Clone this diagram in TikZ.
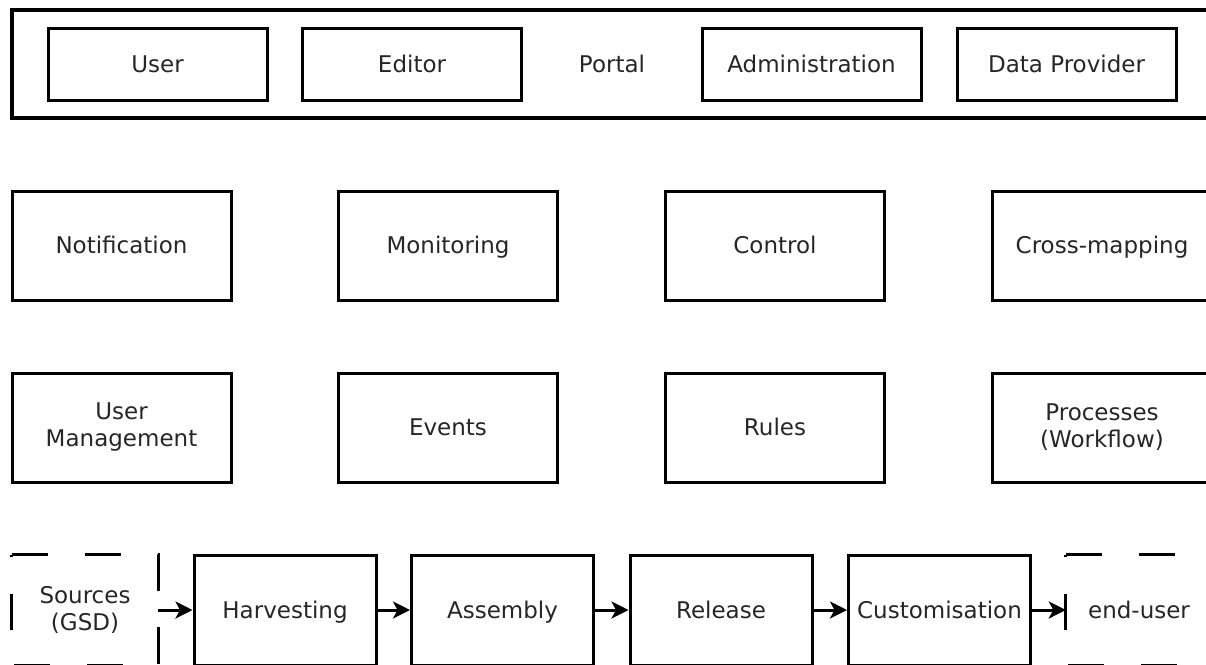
\documentclass[tikz,border=0pt]{standalone}
\usepackage{fontspec}
\setmainfont{DejaVu Sans}
\usetikzlibrary{arrows.meta}
\begin{document}
\begin{tikzpicture}[x=1pt,y=-1pt,
  lbl/.style={inner sep=0pt, align=center, text=black!85, font=\fontsize{23}{27}\selectfont},
  one/.style={text height=16.8pt, text depth=0pt},
  box/.style={lbl, draw, line width=3pt},
  topbox/.style={box, one, minimum width=219pt, minimum height=72pt},
  midbox/.style={box, minimum width=219pt, minimum height=109pt},
  flowbox/.style={box, one, minimum width=182pt, minimum height=110pt},
  dbox/.style={lbl, minimum width=146pt, minimum height=110pt},
  dashline/.style={line width=3pt, dash pattern=on 36.5pt off 36.5pt},
  conn/.style={line width=3pt, -{Stealth[length=17pt,width=17pt,inset=4.5pt]}}
]
\useasboundingbox (0,0) rectangle (1206,664);
\clip (0,0) rectangle (1206,664);

% Portal row
\node[draw, line width=3.5pt, inner sep=0pt, minimum width=1240pt, minimum height=108pt] (portal) at (632,64) {};
\node[lbl, one] (portallbl) at (612,64) {Portal};
\node[topbox] (user)   at (157.5,64) {User};
\node[topbox] (editor) at (412,64)   {Editor};
\node[topbox] (admin)  at (811.5,64) {Administration};
\node[topbox] (dprov)  at (1066.5,64) {Data Provider};

% Second row
\node[midbox, one] (notif) at (121.5,245.5) {Notification};
\node[midbox, one] (monit) at (448,245.5)   {Monitoring};
\node[midbox, one] (ctrl)  at (775,245.5)   {Control};
\node[midbox, one] (cross) at (1102,245.5)  {Cross-mapping};

% Third row
\node[midbox] (umgmt) at (121.5,427.5) {User\\Management};
\node[midbox, one] (events) at (448,427.5)  {Events};
\node[midbox, one] (rules) at (775,427.5)   {Rules};
\node[midbox] (procs) at (1102,427.5)  {Processes\\(Workflow)};

% Flow row
\node[dbox] (src) at (85,610) {Sources\\(GSD)};
\draw[dashline] (src.north west) -- (src.north east) -- (src.south east) -- (src.south west) -- cycle;
\node[flowbox] (harv) at (285,610)   {Harvesting};
\node[flowbox] (asm)  at (502.5,610) {Assembly};
\node[flowbox] (rel)  at (721,610)   {Release};
\node[flowbox] (cust) at (939.5,610) {Customisation};
\node[dbox, one] (enduser) at (1139,610) {end-user};
\draw[dashline] (enduser.north west) -- (enduser.north east) -- (enduser.south east) -- (enduser.south west) -- cycle;

\draw[conn] (src.east) -- (harv.west);
\draw[conn] (harv.east) -- (asm.west);
\draw[conn] (asm.east) -- (rel.west);
\draw[conn] (rel.east) -- (cust.west);
\draw[conn] (cust.east) -- (enduser.west);
\end{tikzpicture}
\end{document}
